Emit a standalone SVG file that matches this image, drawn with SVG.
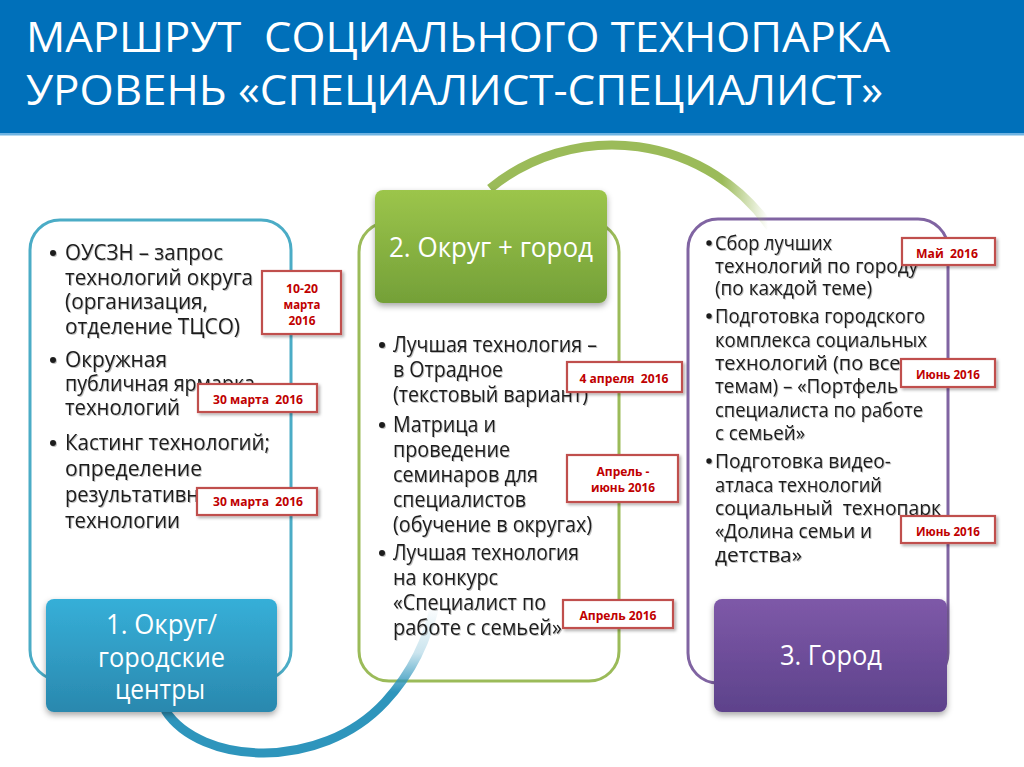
<svg xmlns="http://www.w3.org/2000/svg" width="1024" height="767" viewBox="0 0 1024 767">
<defs>
<style>
.t{font-family:"Open Sans","Noto Sans","DejaVu Sans",sans-serif;fill:#1c1c1c;font-size:21px}
.tr{font-family:"Open Sans","Noto Sans","DejaVu Sans",sans-serif;fill:#1c1c1c;font-size:20px}
.ttl{font-family:"Open Sans","Noto Sans","DejaVu Sans",sans-serif;fill:#ffffff;font-size:42px}
.lb{font-family:"Open Sans","Noto Sans","DejaVu Sans",sans-serif;fill:#ffffff;font-size:27px;text-anchor:middle}
.d{fill:#ffffff;stroke:#C0504D;stroke-width:2.2}
.dt{font-family:"Open Sans","Noto Sans","DejaVu Sans",sans-serif;fill:#C00000;font-size:13px;font-weight:bold;text-anchor:middle}
.ob{fill:none;stroke-width:3}
.bul{fill:#1c1c1c}
</style>
<linearGradient id="gBlue" x1="0" y1="0" x2="0" y2="1">
<stop offset="0" stop-color="#36AFD8"/><stop offset="1" stop-color="#2A88AE"/>
</linearGradient>
<linearGradient id="gGreen" x1="0" y1="0" x2="0" y2="1">
<stop offset="0" stop-color="#9CC54B"/><stop offset="1" stop-color="#74A038"/>
</linearGradient>
<linearGradient id="gPurple" x1="0" y1="0" x2="0" y2="1">
<stop offset="0" stop-color="#7E59A8"/><stop offset="1" stop-color="#5D428B"/>
</linearGradient>
<linearGradient id="arcG" gradientUnits="userSpaceOnUse" x1="722" y1="0" x2="768" y2="0">
<stop offset="0" stop-color="#9BBB59" stop-opacity="1"/><stop offset="1" stop-color="#9BBB59" stop-opacity="0"/>
</linearGradient>
<linearGradient id="arcB" gradientUnits="userSpaceOnUse" x1="0" y1="605" x2="0" y2="692">
<stop offset="0" stop-color="#2E95BC" stop-opacity="0"/><stop offset="0.55" stop-color="#2E95BC" stop-opacity="0.25"/><stop offset="1" stop-color="#2E95BC" stop-opacity="1"/>
</linearGradient>
<filter id="sh" x="-10%" y="-10%" width="120%" height="130%">
<feDropShadow dx="0" dy="3" stdDeviation="3" flood-color="#000" flood-opacity="0.35"/>
</filter>
<filter id="dsh" x="-10%" y="-20%" width="125%" height="150%">
<feDropShadow dx="2" dy="2" stdDeviation="1.5" flood-color="#000" flood-opacity="0.3"/>
</filter>
<filter id="tsh" x="-5%" y="-5%" width="110%" height="110%">
<feDropShadow dx="1" dy="1" stdDeviation="0.7" flood-color="#000" flood-opacity="0.25"/>
</filter>
</defs>

<rect x="0" y="0" width="1024" height="767" fill="#ffffff"/>

<g id="header">
<rect x="0" y="0" width="1024" height="133" fill="#0070BA"/>
<rect x="0" y="133" width="1024" height="2.5" fill="#6FB3E2"/>
<text class="ttl" x="26" y="52" textLength="864" lengthAdjust="spacingAndGlyphs">МАРШРУТ&#160; СОЦИАЛЬНОГО ТЕХНОПАРКА</text>
<text class="ttl" x="26" y="105" textLength="857" lengthAdjust="spacingAndGlyphs">УРОВЕНЬ «СПЕЦИАЛИСТ-СПЕЦИАЛИСТ»</text>
</g>

<g id="frames">
<rect class="ob" x="30" y="220" width="261" height="460" rx="30" stroke="#4BACC6"/>
<rect class="ob" x="359" y="222" width="260" height="459" rx="30" stroke="#9BBB59"/>
<rect class="ob" x="688" y="219" width="260" height="464" rx="30" stroke="#8064A2"/>
</g>

<g id="connectors">
<path d="M 490 188.5 A 193 193 0 0 1 770 227" fill="none" stroke="url(#arcG)" stroke-width="9"/>
<path d="M 165 710 C 200 765, 320 772, 385 702 C 410 675, 428 640, 436 600" fill="none" stroke="url(#arcB)" stroke-width="9"/>
</g>

<g id="node1">
<rect x="46" y="599" width="231" height="113" rx="8" fill="url(#gBlue)" filter="url(#sh)"/>
<text class="lb" x="161.5" y="634" textLength="111" lengthAdjust="spacingAndGlyphs">1. Округ/</text>
<text class="lb" x="161.5" y="667" textLength="127" lengthAdjust="spacingAndGlyphs">городские</text>
<text class="lb" x="160" y="699" textLength="90" lengthAdjust="spacingAndGlyphs">центры</text>
</g>

<g id="node2">
<rect x="375" y="190" width="232" height="113" rx="8" fill="url(#gGreen)" filter="url(#sh)"/>
<text class="lb" x="491" y="257" textLength="204" lengthAdjust="spacingAndGlyphs">2. Округ + город</text>
</g>

<g id="node3">
<rect x="714" y="599" width="233" height="113" rx="8" fill="url(#gPurple)" filter="url(#sh)"/>
<text class="lb" x="831" y="665" textLength="102" lengthAdjust="spacingAndGlyphs">3. Город</text>
</g>

<g id="list1" filter="url(#tsh)">
<circle class="bul" cx="53" cy="253" r="3"/>
<circle class="bul" cx="53" cy="360" r="3"/>
<circle class="bul" cx="53" cy="443" r="3"/>
<text class="t" x="65" y="260" textLength="158" lengthAdjust="spacingAndGlyphs">ОУСЗН – запрос</text>
<text class="t" x="65" y="284.5" textLength="188" lengthAdjust="spacingAndGlyphs">технологий округа</text>
<text class="t" x="65" y="309" textLength="143" lengthAdjust="spacingAndGlyphs">(организация,</text>
<text class="t" x="65" y="333.5" textLength="175" lengthAdjust="spacingAndGlyphs">отделение ТЦСО)</text>
<text class="t" x="65" y="367" textLength="102" lengthAdjust="spacingAndGlyphs">Окружная</text>
<text class="t" x="65" y="391" textLength="190" lengthAdjust="spacingAndGlyphs">публичная ярмарка</text>
<text class="t" x="65" y="415" textLength="115" lengthAdjust="spacingAndGlyphs">технологий</text>
<text class="t" x="65" y="450" textLength="205" lengthAdjust="spacingAndGlyphs">Кастинг технологий;</text>
<text class="t" x="65" y="476" textLength="137" lengthAdjust="spacingAndGlyphs">определение</text>
<text class="t" x="65" y="502" textLength="160" lengthAdjust="spacingAndGlyphs">результативных</text>
<text class="t" x="65" y="528" textLength="115" lengthAdjust="spacingAndGlyphs">технологии</text>
</g>

<g id="list2" filter="url(#tsh)">
<circle class="bul" cx="382" cy="345" r="3"/>
<circle class="bul" cx="382" cy="425" r="3"/>
<circle class="bul" cx="382" cy="553" r="3"/>
<text class="t" x="393" y="352" textLength="204" lengthAdjust="spacingAndGlyphs">Лучшая технология –</text>
<text class="t" x="393" y="377" textLength="110" lengthAdjust="spacingAndGlyphs">в Отрадное</text>
<text class="t" x="393" y="402" textLength="195" lengthAdjust="spacingAndGlyphs">(текстовый вариант)</text>
<text class="t" x="393" y="432" textLength="103" lengthAdjust="spacingAndGlyphs">Матрица и</text>
<text class="t" x="393" y="457" textLength="117" lengthAdjust="spacingAndGlyphs">проведение</text>
<text class="t" x="393" y="482" textLength="145" lengthAdjust="spacingAndGlyphs">семинаров для</text>
<text class="t" x="393" y="507" textLength="133" lengthAdjust="spacingAndGlyphs">специалистов</text>
<text class="t" x="393" y="532" textLength="199" lengthAdjust="spacingAndGlyphs">(обучение в округах)</text>
<text class="t" x="393" y="560" textLength="186" lengthAdjust="spacingAndGlyphs">Лучшая технология</text>
<text class="t" x="393" y="585" textLength="105" lengthAdjust="spacingAndGlyphs">на конкурс</text>
<text class="t" x="393" y="610" textLength="153" lengthAdjust="spacingAndGlyphs">«Специалист по</text>
<text class="t" x="393" y="635" textLength="169" lengthAdjust="spacingAndGlyphs">работе с семьей»</text>
</g>

<g id="list3" filter="url(#tsh)">
<circle class="bul" cx="709" cy="243" r="2.7"/>
<circle class="bul" cx="709" cy="316" r="2.7"/>
<circle class="bul" cx="709" cy="461" r="2.7"/>
<text class="tr" x="715" y="250" textLength="117" lengthAdjust="spacingAndGlyphs">Сбор лучших</text>
<text class="tr" x="715" y="273" textLength="203" lengthAdjust="spacingAndGlyphs">технологий по городу</text>
<text class="tr" x="715" y="295" textLength="157" lengthAdjust="spacingAndGlyphs">(по каждой теме)</text>
<text class="tr" x="715" y="323" textLength="210" lengthAdjust="spacingAndGlyphs">Подготовка городского</text>
<text class="tr" x="715" y="347" textLength="212" lengthAdjust="spacingAndGlyphs">комплекса социальных</text>
<text class="tr" x="715" y="370" textLength="200" lengthAdjust="spacingAndGlyphs">технологий (по всем</text>
<text class="tr" x="715" y="393" textLength="183" lengthAdjust="spacingAndGlyphs">темам) – «Портфель</text>
<text class="tr" x="715" y="417" textLength="208" lengthAdjust="spacingAndGlyphs">специалиста по работе</text>
<text class="tr" x="715" y="440" textLength="90" lengthAdjust="spacingAndGlyphs">с семьей»</text>
<text class="tr" x="715" y="468" textLength="176" lengthAdjust="spacingAndGlyphs">Подготовка видео-</text>
<text class="tr" x="715" y="492" textLength="167" lengthAdjust="spacingAndGlyphs">атласа технологий</text>
<text class="tr" x="715" y="515" textLength="226" lengthAdjust="spacingAndGlyphs">социальный&#160; технопарк</text>
<text class="tr" x="715" y="538" textLength="157" lengthAdjust="spacingAndGlyphs">«Долина семьи и</text>
<text class="tr" x="715" y="562" textLength="87" lengthAdjust="spacingAndGlyphs">детства»</text>
</g>

<g id="dates">
<g filter="url(#dsh)">
<rect class="d" x="262" y="271" width="79" height="63"/>
<rect class="d" x="198" y="384" width="119" height="28"/>
<rect class="d" x="197" y="488" width="120" height="27"/>
<rect class="d" x="567" y="362" width="115" height="30"/>
<rect class="d" x="567" y="455" width="111" height="47"/>
<rect class="d" x="563" y="600" width="110" height="28"/>
<rect class="d" x="902" y="238" width="93" height="27"/>
<rect class="d" x="901" y="359" width="94" height="28"/>
<rect class="d" x="901" y="516" width="94" height="27"/>
</g>
<text class="dt" x="302" y="292.5" textLength="32" lengthAdjust="spacingAndGlyphs">10-20</text>
<text class="dt" x="302" y="308.5" textLength="37" lengthAdjust="spacingAndGlyphs">марта</text>
<text class="dt" x="302" y="325" textLength="27" lengthAdjust="spacingAndGlyphs">2016</text>
<text class="dt" x="258" y="404" textLength="90" lengthAdjust="spacingAndGlyphs">30 марта&#160; 2016</text>
<text class="dt" x="258" y="506" textLength="90" lengthAdjust="spacingAndGlyphs">30 марта&#160; 2016</text>
<text class="dt" x="624" y="382.5" textLength="89" lengthAdjust="spacingAndGlyphs">4 апреля&#160; 2016</text>
<text class="dt" x="623" y="476" textLength="53" lengthAdjust="spacingAndGlyphs">Апрель -</text>
<text class="dt" x="623" y="492" textLength="64" lengthAdjust="spacingAndGlyphs">июнь 2016</text>
<text class="dt" x="618" y="619.5" textLength="77" lengthAdjust="spacingAndGlyphs">Апрель 2016</text>
<text class="dt" x="947" y="257.5" textLength="62" lengthAdjust="spacingAndGlyphs">Май&#160; 2016</text>
<text class="dt" x="948" y="378.5" textLength="64" lengthAdjust="spacingAndGlyphs">Июнь 2016</text>
<text class="dt" x="948" y="535.5" textLength="64" lengthAdjust="spacingAndGlyphs">Июнь 2016</text>
</g>
</svg>
